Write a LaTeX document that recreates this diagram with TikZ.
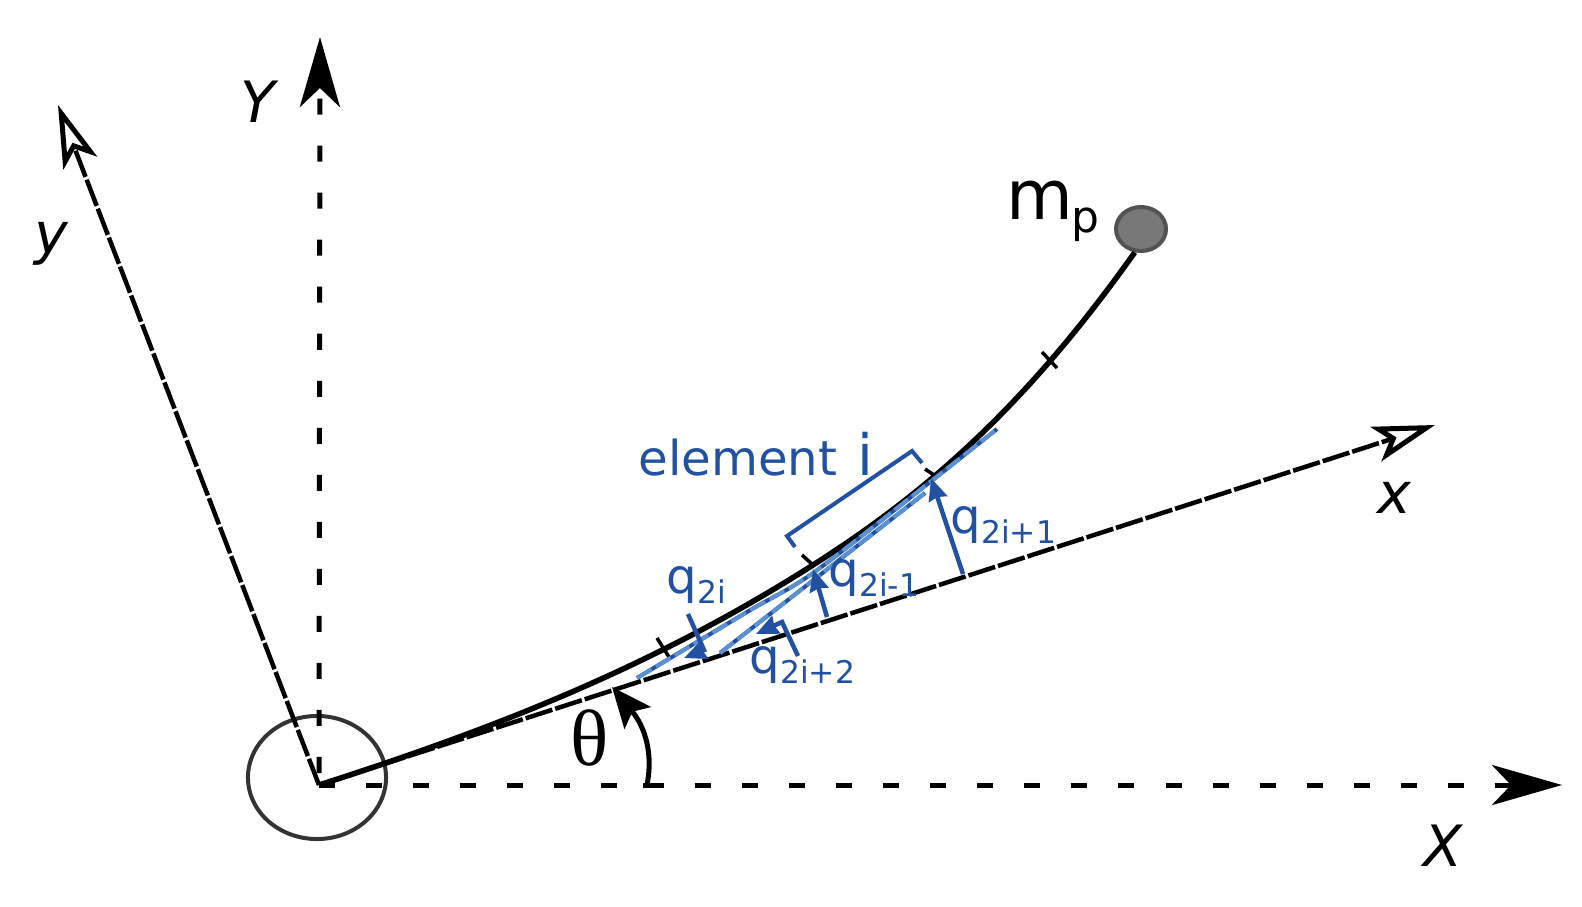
\documentclass[tikz,border=0pt]{standalone}
\usepackage{fontspec}
\setmainfont{DejaVu Sans}
\newfontfamily\thetafont{Liberation Serif}
\usetikzlibrary{arrows.meta, shapes.geometric}
\definecolor{elemblue}{HTML}{2251A3}
\definecolor{chordblue}{HTML}{5B90D2}
\newcommand{\qlabel}[1]{\fontsize{13.7}{14}\selectfont q\raisebox{-0.1cm}{\fontsize{8.9}{10}\selectfont #1}}
\tikzset{
  refaxis/.style={line width=0.05cm, dash pattern=on 0.16cm off 0.31cm},
  bodyaxis/.style={line width=0.045cm, dash pattern=on 0.28cm off 0.03cm,
    -{Stealth[open,length=0.62cm,width=0.36cm,inset=0.15cm,line width=0.05cm]}},
  bighead/.style={-{Stealth[length=0.7cm,width=0.4cm,inset=0.19cm]}},
  beam/.style={line width=0.055cm},
  marktick/.style={line width=0.035cm},
  qarrow/.style={elemblue, line width=0.045cm, -{Stealth[length=0.22cm,width=0.19cm,inset=0.02cm]}},
  chord/.style={elemblue, line width=0.04cm},
  chorddash/.style={chordblue, line width=0.04cm, dash pattern=on 0.17cm off 0.05cm},
  axislabel/.style={anchor=base west, inner sep=0pt, font=\fontsize{16.2}{18}\selectfont\itshape},
  qtext/.style={anchor=base west, inner sep=0pt, text=elemblue},
}
\begin{document}
\begin{tikzpicture}[x=0.01cm,y=-0.01cm]
        \useasboundingbox (0,0) rectangle (1582,906);
        \coordinate (hub) at (319,785);
        \coordinate (xend) at (1562,785);
        \coordinate (yend) at (320,37);
        \coordinate (bx) at (1435,425);
        \coordinate (by) at (58,105);
        % axes
        \node[draw=black!80, line width=0.04cm, ellipse, minimum width=1.38cm,
          minimum height=1.23cm, inner sep=0pt] (joint) at (317,777.5) {};
        \draw[refaxis, bighead] (hub) -- (xend);
        \draw[refaxis, dash phase=0.35cm, bighead] (hub) -- (yend);
        \draw[bodyaxis] (hub) -- (bx);
        \draw[bodyaxis] (hub) -- (by);
        % beam
        \node[draw=black!68, fill=black!53, line width=0.04cm, ellipse, minimum width=0.5cm,
          minimum height=0.44cm, inner sep=0pt] (mass) at (1141,229) {};
        \coordinate (n1) at (663,647);
        \coordinate (n2) at (813,565);
        \coordinate (n3) at (931,478);
        \coordinate (n4) at (1050,360);
        \draw[beam] (hub) .. controls (484,732) and (648,670) .. (n2)
          .. controls (923,495) and (1023,410) .. (mass.255);
        \draw[marktick] (657,638) -- (669,657);
        \draw[marktick] (802,555) -- (n2);
        \draw[marktick] (925,469) -- (937,477);
        \draw[marktick] (1042,352) -- (1057,368);
        % chords of the element
        \coordinate (c1a) at (637,678);
        \coordinate (c1b) at (997,429);
        \coordinate (c2a) at (720,653);
        \coordinate (c2b) at (925,493);
        \draw[chord] plot[smooth] coordinates {(c1a) (747,612) (813,573) (925,486) (c1b)};
        \draw[chord] (c2a) -- (c2b);
        \draw[chorddash] plot[smooth] coordinates {(c1a) (747,612) (813,573) (925,486) (c1b)};
        \draw[chorddash] (c2a) -- (c2b);
        % dofs
        \coordinate (q1) at (963,574);
        \coordinate (q3) at (827,617);
        \draw[qarrow] (q1) -- (n3);
        \draw[qarrow] (q3) -- (813,569);
        \draw[qarrow] (688,614) -- (704,650) -- (684,658);
        \draw[qarrow] (798,656) -- (782,622) -- (756,634);
        \draw[elemblue, line width=0.04cm] (795,547) -- (787,536) -- (912,451) -- (922,463);
        % angle
        \coordinate (arcbase) at (647,785);
        \draw[line width=0.05cm] (643,785) -- (660,785);
        \draw[line width=0.05cm, -{Stealth[length=0.4cm,width=0.34cm,inset=0.08cm]}]
          (arcbase) .. controls (653,755) and (646,728) .. (612,687);
        % labels
        \node[axislabel] (lY) at (240,122) {Y};
        \node[axislabel] (lX) at (1423,866) {X};
        \node[axislabel] (lx) at (1377,513) {x};
        \node[axislabel] (ly) at (34,253) {y};
        \node[anchor=base west, inner sep=0pt, font=\fontsize{22.7}{24}\thetafont] (ltheta) at (570,765) {θ};
        \node[anchor=base west, inner sep=0pt, font=\fontsize{19.5}{22}\selectfont] (lm) at (1006,219) {m};
        \node[anchor=base west, inner sep=0pt, font=\fontsize{12.5}{14}\selectfont] (lp) at (1071,232) {p};
        \node[qtext, font=\fontsize{13.7}{16}\selectfont] (lelem) at (638,475) {element};
        \node[qtext, font=\fontsize{16.2}{18}\selectfont] (li) at (857,475) {i};
        \node[qtext] (lq1) at (950,533) {\qlabel{2i+1}};
        \node[qtext] (lq3) at (828,586) {\qlabel{2i-1}};
        \node[qtext] (lq2) at (666,593) {\qlabel{2i}};
        \node[qtext] (lq4) at (749,673) {\qlabel{2i+2}};
\end{tikzpicture}
\end{document}
